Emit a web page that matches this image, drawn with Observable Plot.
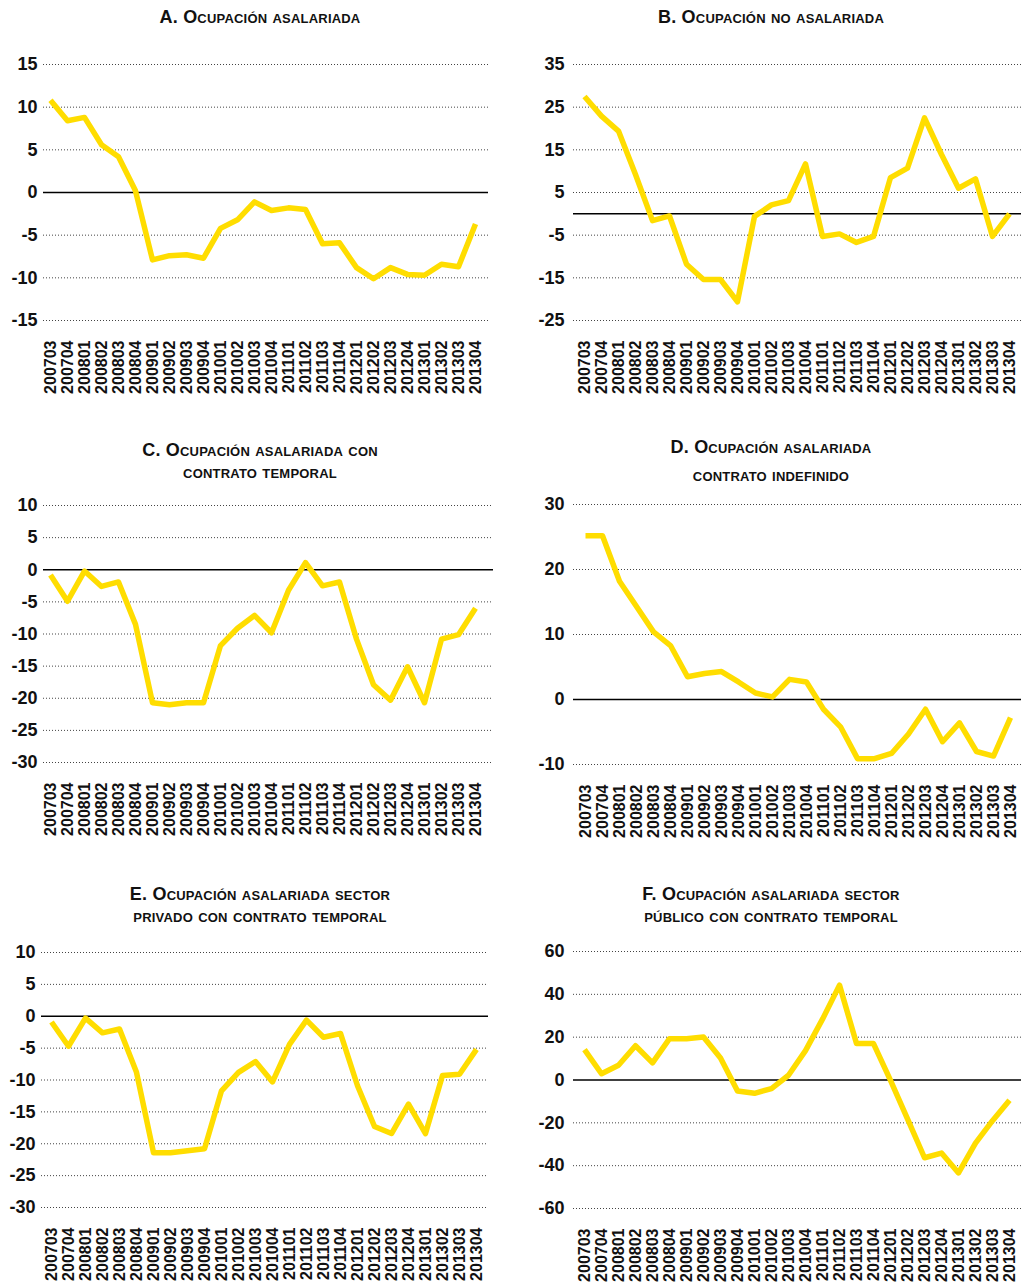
<!DOCTYPE html>
<html><head><meta charset="utf-8">
<script src="https://cdn.jsdelivr.net/npm/d3@7"></script>
<script src="https://cdn.jsdelivr.net/npm/@observablehq/plot@0.6"></script>
<style>
body{margin:0;background:#fff;font-family:"Liberation Sans",Arial,sans-serif;}
#root{position:relative;width:1021px;height:1285px;overflow:hidden;background:#fff;}
.title{position:absolute;font-weight:bold;font-variant:small-caps;font-size:18px;text-align:center;white-space:nowrap;transform:translateX(-50%);color:#111;line-height:22px;letter-spacing:0.2px}
.panel{position:absolute}
</style></head><body><div id="root"></div>
<script>
const periods = ["200703","200704","200801","200802","200803","200804","200901","200902","200903","200904","201001","201002","201003","201004","201101","201102","201103","201104","201201","201202","201203","201204","201301","201302","201303","201304"];

const serieA = [10.8,8.4,8.8,5.6,4.2,0.2,-7.9,-7.4,-7.3,-7.7,-4.2,-3.2,-1.1,-2.1,-1.8,-2.0,-6.0,-5.9,-8.8,-10.1,-8.8,-9.6,-9.7,-8.4,-8.7,-3.7];
const serieB = [27.5,22.9,19.4,9.2,-1.6,-0.5,-11.8,-15.4,-15.4,-20.6,-0.6,2.1,3.1,11.7,-5.3,-4.7,-6.7,-5.3,8.5,10.7,22.5,13.9,6.0,8.2,-5.3,0.0];
const serieC = [-0.8,-4.9,-0.2,-2.6,-1.9,-8.5,-20.7,-21.0,-20.7,-20.7,-11.8,-9.1,-7.1,-9.8,-3.2,1.1,-2.5,-1.9,-10.8,-17.9,-20.3,-15.1,-20.7,-10.8,-10.1,-6.0];
const serieD = [25.2,25.2,18.2,14.3,10.4,8.3,3.5,4.0,4.3,2.7,1.0,0.4,3.1,2.7,-1.5,-4.2,-9.1,-9.1,-8.3,-5.3,-1.5,-6.5,-3.6,-8.0,-8.7,-2.8];
const serieE = [-0.9,-4.7,-0.3,-2.6,-2.0,-8.8,-21.4,-21.4,-21.1,-20.8,-11.7,-8.8,-7.1,-10.3,-4.4,-0.6,-3.3,-2.7,-10.9,-17.3,-18.4,-13.8,-18.4,-9.3,-9.1,-5.2];
const serieF = [14.2,2.9,6.9,16.0,8.0,19.3,19.3,20.1,10.3,-5.1,-6.2,-4.0,2.2,13.7,28.4,44.3,17.0,17.0,-0.2,-18.2,-36.3,-34.1,-43.4,-29.5,-19.0,-9.4];

const ticksA = [-15,-10,-5,0,5,10,15];
const ticksB = [-25,-15,-5,5,15,25,35];
const ticksC = [-30,-25,-20,-15,-10,-5,0,5,10];
const ticksD = [-10,0,10,20,30];
const ticksE = [-30,-25,-20,-15,-10,-5,0,5,10];
const ticksF = [-60,-40,-20,0,20,40,60];

const titles = [
  ["A. Ocupación asalariada"],
  ["B. Ocupación no asalariada"],
  ["C. Ocupación asalariada con", "contrato temporal"],
  ["D. Ocupación asalariada", "contrato indefinido"],
  ["E. Ocupación asalariada sector", "privado con contrato temporal"],
  ["F. Ocupación asalariada sector", "público con contrato temporal"]
];

const root = document.getElementById("root");
const YELLOW = "#FFDD00";

function panel(cfg) {
  const {values, ticks, left, width, gridTop, h, gridL, gridR, ptL, ptR, tickPad} = cfg;
  const data = periods.map((p, i) => ({p, v: values[i]}));
  const mt = 15, mb = 75;
  const svgTop = gridTop - mt;
  const chart = Plot.plot({
    width, height: mt + h + mb,
    marginTop: mt, marginBottom: mb, marginLeft: gridL, marginRight: width - gridR,
    style: {fontFamily: "'Liberation Sans', Arial, sans-serif", background: "transparent", color: "#111"},
    x: {type: "point", domain: periods, range: [ptL, ptR], padding: 0, axis: null},
    y: {domain: [ticks[0], ticks[ticks.length - 1]], range: [mt + h, mt], axis: null},
    marks: [
      Plot.ruleY(ticks.filter(t => t !== 0), {stroke: "#444", strokeWidth: 1, strokeDasharray: "1,2"}),
      Plot.ruleY([0], {stroke: "#000", strokeWidth: 1.5}),
      Plot.axisY(ticks, {anchor: "left", label: null, tickSize: 0, tickPadding: tickPad, fontSize: 18, fontWeight: "bold", tickFormat: d => String(d)}),
      Plot.axisX(periods, {anchor: "bottom", label: null, tickSize: 0, tickPadding: 20, tickRotate: -90, fontSize: 16, fontWeight: "bold"}),
      Plot.line(data, {x: "p", y: "v", stroke: YELLOW, strokeWidth: 5.5, strokeLinejoin: "round", strokeLinecap: "butt"})
    ]
  });
  const div = document.createElement("div");
  div.className = "panel";
  div.style.left = left + "px";
  div.style.top = svgTop + "px";
  div.appendChild(chart);
  root.appendChild(div);
}

function title(lines, cx, top, lh) {
  const d = document.createElement("div");
  d.className = "title";
  d.style.left = cx + "px";
  d.style.top = top + "px";
  if (lh) d.style.lineHeight = lh + "px";
  d.innerHTML = lines.join("<br>");
  root.appendChild(d);
}

// left column
panel({values: serieA, ticks: ticksA, left: 0, width: 510, gridTop: 64, h: 256, gridL: 43, gridR: 488, ptL: 50, ptR: 475, tickPad: 6});
panel({values: serieC, ticks: ticksC, left: 0, width: 510, gridTop: 505, h: 257, gridL: 43, gridR: 493, ptL: 50, ptR: 475, tickPad: 6});
panel({values: serieE, ticks: ticksE, left: 0, width: 510, gridTop: 952, h: 255, gridL: 41, gridR: 488, ptL: 49, ptR: 477, tickPad: 6});
// right column
panel({values: serieB, ticks: ticksB, left: 510, width: 511, gridTop: 64, h: 256, gridL: 63, gridR: 511, ptL: 72, ptR: 500, tickPad: 9});
panel({values: serieD, ticks: ticksD, left: 510, width: 511, gridTop: 504, h: 260, gridL: 63, gridR: 511, ptL: 74, ptR: 500, tickPad: 9});
panel({values: serieF, ticks: ticksF, left: 510, width: 511, gridTop: 951, h: 257, gridL: 63, gridR: 511, ptL: 72, ptR: 500, tickPad: 9});

title(titles[0], 260, 6);
title(titles[1], 771, 6);
title(titles[2], 260, 439);
title(titles[3], 771, 433, 28);
title(titles[4], 260, 883);
title(titles[5], 771, 883);
</script></body></html>
